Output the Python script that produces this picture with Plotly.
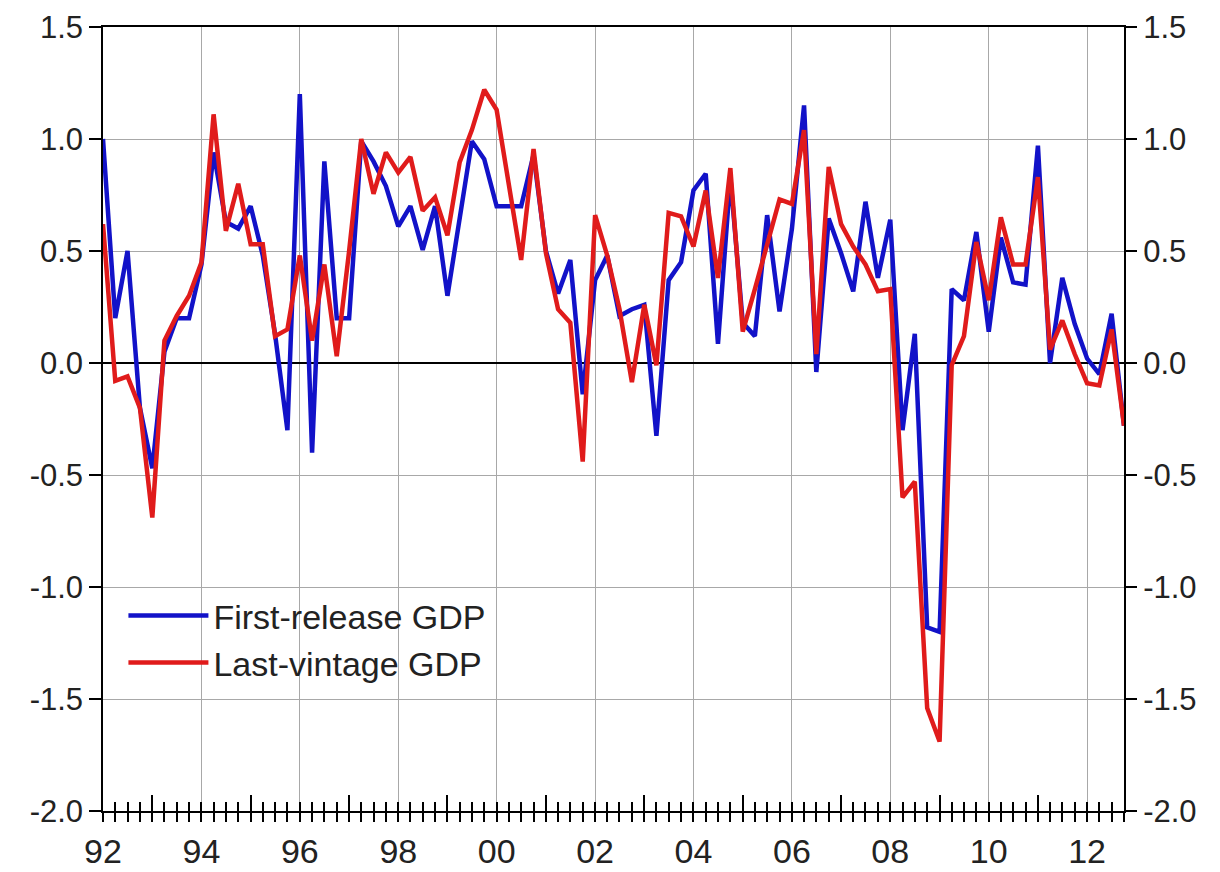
import pandas as pd
import plotly.graph_objects as go

# Quarterly GDP growth, 1992Q1 - 2012Q4 (percent, q/q)
quarters = pd.period_range("1992Q1", "2012Q4", freq="Q").to_timestamp()

first_release = [
    1.00, 0.20, 0.50, -0.20, -0.47, 0.05, 0.20, 0.20,
    0.44, 0.94, 0.63, 0.60, 0.70, 0.48, 0.13, -0.30,
    1.20, -0.40, 0.90, 0.20, 0.20, 0.99, 0.90, 0.79,
    0.61, 0.70, 0.505, 0.70, 0.30, 0.645, 0.99, 0.91,
    0.70, 0.70, 0.70, 0.93, 0.50, 0.31, 0.46, -0.14,
    0.37, 0.48, 0.21, 0.24, 0.26, -0.325, 0.37, 0.45,
    0.77, 0.845, 0.086, 0.83, 0.18, 0.12, 0.66, 0.23,
    0.60, 1.15, -0.04, 0.645, 0.49, 0.32, 0.72, 0.38,
    0.64, -0.30, 0.13, -1.18, -1.20, 0.33, 0.28, 0.585,
    0.14, 0.56, 0.36, 0.35, 0.97, 0.00, 0.38, 0.175,
    0.02, -0.05, 0.22, -0.28,
]

last_vintage = [
    0.62, -0.08, -0.06, -0.20, -0.69, 0.10, 0.21, 0.30,
    0.45, 1.11, 0.59, 0.80, 0.53, 0.53, 0.12, 0.15,
    0.48, 0.10, 0.44, 0.03, 0.50, 1.00, 0.755, 0.94,
    0.85, 0.92, 0.68, 0.74, 0.57, 0.895, 1.04, 1.22,
    1.13, 0.80, 0.46, 0.955, 0.49, 0.24, 0.18, -0.44,
    0.66, 0.48, 0.24, -0.085, 0.26, -0.01, 0.67, 0.655,
    0.52, 0.77, 0.38, 0.87, 0.14, 0.33, 0.53, 0.73,
    0.71, 1.04, 0.04, 0.875, 0.62, 0.52, 0.44, 0.32,
    0.33, -0.60, -0.53, -1.54, -1.69, -0.01, 0.12, 0.54,
    0.28, 0.65, 0.44, 0.44, 0.83, 0.06, 0.19, 0.04,
    -0.09, -0.10, 0.15, -0.28,
]

y_ticks = [1.5, 1.0, 0.5, 0.0, -0.5, -1.0, -1.5, -2.0]
y_tick_labels = ["1.5", "1.0", "0.5", "0.0", "-0.5", "-1.0", "-1.5", "-2.0"]

BLUE = "#1212c8"
RED = "#e01b1b"
TEXT = "#222222"
GRID = "#a8a8a8"
FONT = "Liberation Sans, Arial, sans-serif"

x_range = [quarters[0], quarters[-1]]

fig = go.Figure()
fig.add_trace(go.Scatter(
    x=quarters, y=first_release, mode="lines", name="First-release GDP",
    line=dict(color=BLUE, width=4.5),
))
fig.add_trace(go.Scatter(
    x=quarters, y=last_vintage, mode="lines", name="Last-vintage GDP",
    line=dict(color=RED, width=4.5),
))
# transparent carrier trace for the secondary (tick-only) axes
fig.add_trace(go.Scatter(
    x=quarters, y=last_vintage, xaxis="x2", yaxis="y2", mode="lines",
    line=dict(width=0), opacity=0, showlegend=False, hoverinfo="skip",
))

fig.update_layout(
    width=1220, height=872,
    margin=dict(l=103, r=96, t=27, b=61),
    paper_bgcolor="white", plot_bgcolor="white",
    font=dict(family=FONT, color=TEXT),
    showlegend=True,
    legend=dict(
        x=0.02, y=0.286, xanchor="left", yanchor="top",
        bgcolor="rgba(0,0,0,0)", font=dict(size=34, color=TEXT),
        itemwidth=80, tracegroupgap=0,
    ),
    xaxis=dict(
        type="date", range=x_range, automargin=False,
        tick0="1992-01-01", dtick="M24", tickformat="%y",
        ticks="outside", ticklen=9, tickwidth=1.5, tickcolor="black",
        minor=dict(dtick="M3", tick0="1992-01-01", ticks="outside",
                   ticklen=9, tickwidth=1.5, tickcolor="black", showgrid=False),
        showgrid=True, gridcolor=GRID, gridwidth=1,
        showline=True, linecolor="black", linewidth=1.5, mirror=True,
        tickfont=dict(size=34, color=TEXT),
        zeroline=False,
    ),
    xaxis2=dict(
        type="date", range=x_range, overlaying="x", anchor="y2", side="bottom",
        automargin=False,
        tick0="1993-01-01", dtick="M24",
        ticks="inside", ticklen=16, tickwidth=1.5, tickcolor="black",
        minor=dict(dtick="M3", tick0="1992-01-01", ticks="inside",
                   ticklen=9, tickwidth=1.5, tickcolor="black", showgrid=False),
        showticklabels=False, showgrid=False, showline=False, zeroline=False,
    ),
    yaxis=dict(
        range=[-2.0, 1.5], automargin=False,
        tickmode="array", tickvals=y_ticks, ticktext=y_tick_labels,
        ticks="outside", ticklen=12, tickwidth=1.5, tickcolor="black",
        showgrid=True, gridcolor=GRID, gridwidth=1,
        zeroline=True, zerolinecolor="black", zerolinewidth=1.5,
        showline=True, linecolor="black", linewidth=1.5, mirror=True,
        tickfont=dict(size=31, color=TEXT),
    ),
    yaxis2=dict(
        range=[-2.0, 1.5], overlaying="y", side="right", anchor="x2",
        automargin=False,
        tickmode="array", tickvals=y_ticks, ticktext=y_tick_labels,
        ticks="outside", ticklen=12, tickwidth=1.5, tickcolor="black",
        showgrid=False, zeroline=False,
        tickfont=dict(size=31, color=TEXT),
    ),
)

fig.write_html("out.html")
